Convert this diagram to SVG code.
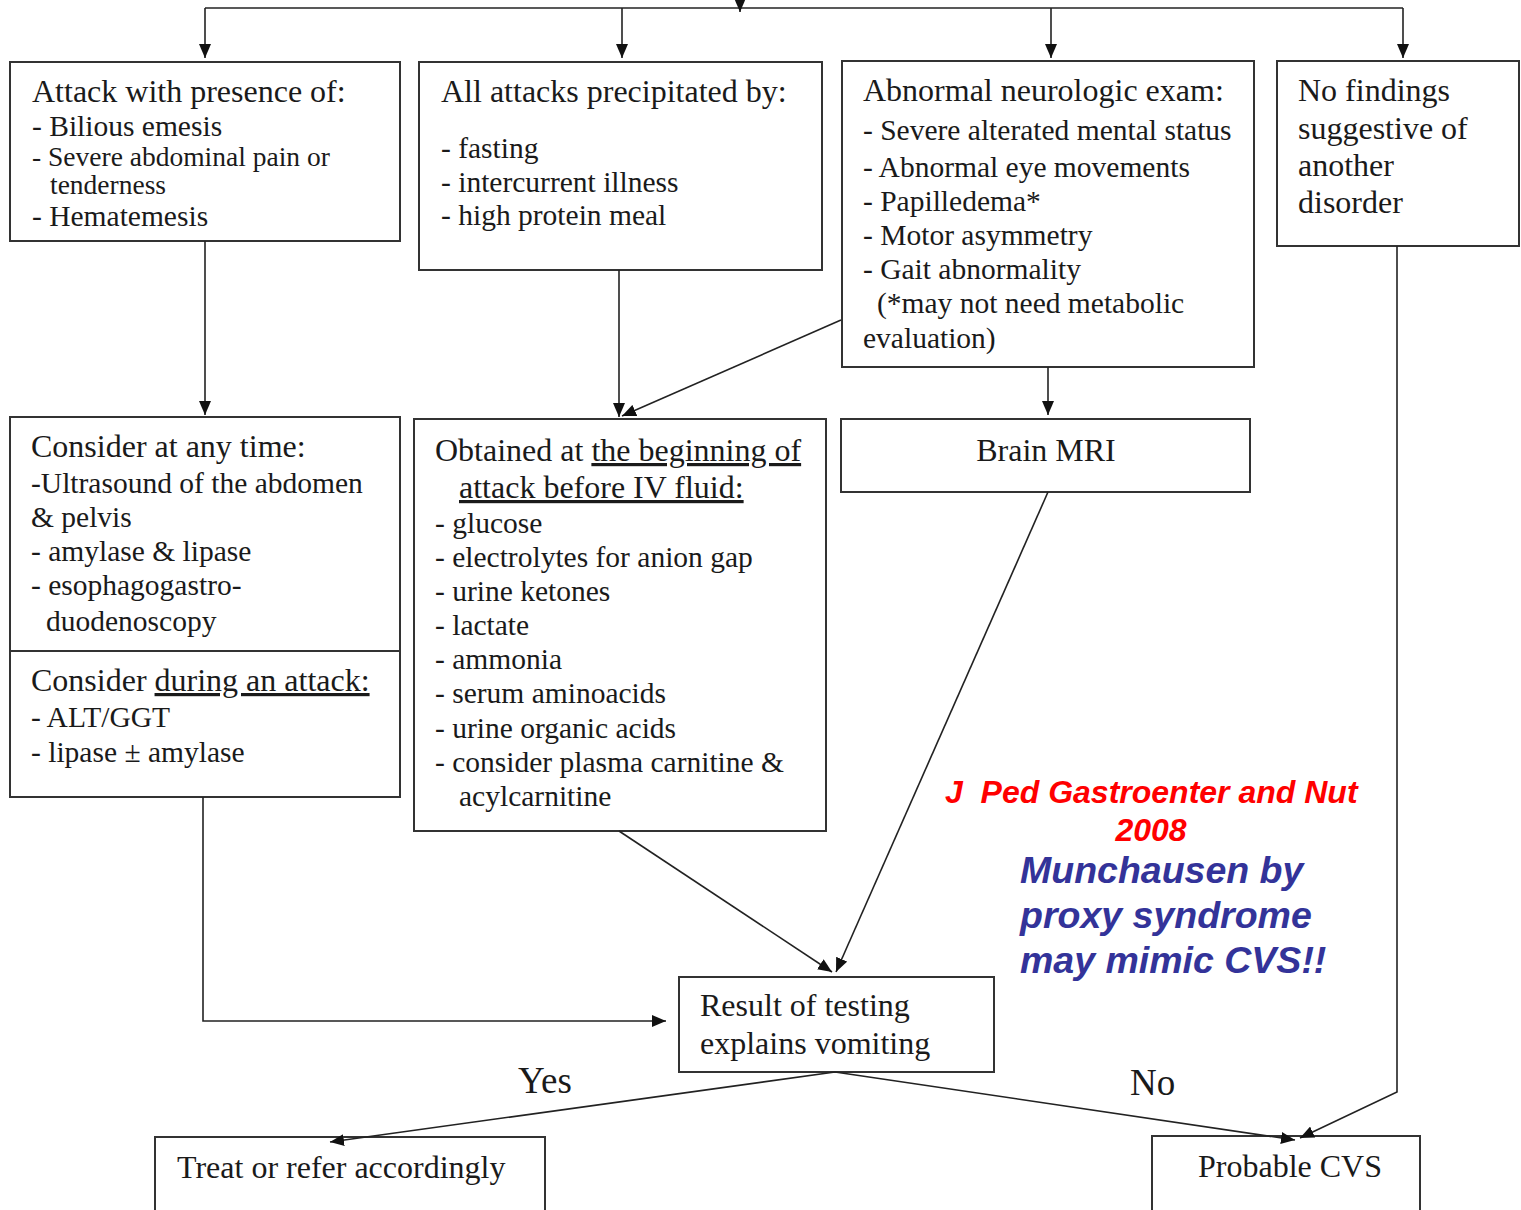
<svg xmlns="http://www.w3.org/2000/svg" width="1521" height="1210" viewBox="0 0 1521 1210">
<defs>
<marker id="ah" markerUnits="userSpaceOnUse" viewBox="0 0 14 12" markerWidth="14" markerHeight="12" refX="14" refY="6" orient="auto">
<path d="M0,0 L14,6 L0,12 z" fill="#111"/>
</marker>
<style>
.box{fill:#fff;stroke:#333;stroke-width:2}
.ln{fill:none;stroke:#222;stroke-width:1.6}
.ar{fill:none;stroke:#222;stroke-width:1.6;marker-end:url(#ah)}
.h{font-family:"Liberation Serif","Times New Roman",serif;font-size:32px;fill:#1a1a1a}
.b{font-family:"Liberation Serif","Times New Roman",serif;font-size:29.5px;fill:#1a1a1a}
.s{font-family:"Liberation Serif","Times New Roman",serif;font-size:27.5px;fill:#1a1a1a}
.yn{font-family:"Liberation Serif","Times New Roman",serif;font-size:37px;fill:#1a1a1a}
.red{font-family:"Liberation Sans",Arial,sans-serif;font-size:32px;font-weight:bold;font-style:italic;fill:#ff0000}
.blue{font-family:"Liberation Sans",Arial,sans-serif;font-size:37.5px;font-weight:bold;font-style:italic;fill:#333399}
.u{text-decoration:underline}
</style>
</defs>
<rect width="1521" height="1210" fill="#fff"/>

<g id="node-attack">
<rect class="box" x="10" y="62" width="390" height="179"/>
<text class="h" x="32" y="102">Attack with presence of:</text>
<text class="b" x="32" y="136">- Bilious emesis</text>
<text class="s" x="32" y="166">- Severe abdominal pain or</text>
<text class="s" x="50" y="194">tenderness</text>
<text class="b" x="32" y="226">- Hematemesis</text>
</g>

<g id="node-precipitated">
<rect class="box" x="419" y="62" width="403" height="208"/>
<text class="h" x="441" y="102">All attacks precipitated by:</text>
<text class="b" x="441" y="158">- fasting</text>
<text class="b" x="441" y="192">- intercurrent illness</text>
<text class="b" x="441" y="225">- high protein meal</text>
</g>

<g id="node-neuro">
<rect class="box" x="842" y="61" width="412" height="306"/>
<text class="h" x="863" y="101">Abnormal neurologic exam:</text>
<text class="b" x="863" y="140">- Severe alterated mental status</text>
<text class="b" x="863" y="177">- Abnormal eye movements</text>
<text class="b" x="863" y="211">- Papilledema*</text>
<text class="b" x="863" y="245">- Motor asymmetry</text>
<text class="b" x="863" y="279">- Gait abnormality</text>
<text class="b" x="877" y="313">(*may not need metabolic</text>
<text class="b" x="863" y="348">evaluation)</text>
</g>

<g id="node-nofindings">
<rect class="box" x="1277" y="61" width="242" height="185"/>
<text class="h" x="1298" y="101">No findings</text>
<text class="h" x="1298" y="139">suggestive of</text>
<text class="h" x="1298" y="176">another</text>
<text class="h" x="1298" y="213">disorder</text>
</g>

<g id="node-consider">
<rect class="box" x="10" y="417" width="390" height="380"/>
<line x1="10" y1="651" x2="400" y2="651" stroke="#333" stroke-width="2"/>
<text class="h" x="31" y="457">Consider at any time:</text>
<text class="b" x="31" y="493">-Ultrasound of the abdomen</text>
<text class="b" x="31" y="527">&amp; pelvis</text>
<text class="b" x="31" y="561">- amylase &amp; lipase</text>
<text class="b" x="31" y="595">- esophagogastro-</text>
<text class="b" x="46" y="631">duodenoscopy</text>
<text class="h" x="31" y="691">Consider <tspan class="u">during an attack:</tspan></text>
<text class="b" x="31" y="727">- ALT/GGT</text>
<text class="b" x="31" y="762">- lipase ± amylase</text>
</g>

<g id="node-obtained">
<rect class="box" x="414" y="419" width="412" height="412"/>
<text class="h" x="435" y="461">Obtained at <tspan class="u">the beginning of</tspan></text>
<text class="h" x="459" y="498" text-decoration="underline">attack before IV fluid:</text>
<text class="b" x="435" y="533">- glucose</text>
<text class="b" x="435" y="567">- electrolytes for anion gap</text>
<text class="b" x="435" y="601">- urine ketones</text>
<text class="b" x="435" y="635">- lactate</text>
<text class="b" x="435" y="669">- ammonia</text>
<text class="b" x="435" y="703">- serum aminoacids</text>
<text class="b" x="435" y="738">- urine organic acids</text>
<text class="b" x="435" y="772">- consider plasma carnitine &amp;</text>
<text class="b" x="459" y="806">acylcarnitine</text>
</g>

<g id="node-mri">
<rect class="box" x="841" y="419" width="409" height="73"/>
<text class="h" x="1046" y="461" text-anchor="middle">Brain MRI</text>
</g>

<g id="node-result">
<rect class="box" x="679" y="977" width="315" height="95"/>
<text class="h" x="700" y="1016">Result of testing</text>
<text class="h" x="700" y="1054">explains vomiting</text>
</g>

<g id="node-treat">
<rect class="box" x="155" y="1137" width="390" height="80"/>
<text class="h" x="177" y="1178">Treat or refer accordingly</text>
</g>

<g id="node-cvs">
<rect class="box" x="1152" y="1136" width="268" height="80"/>
<text class="h" x="1198" y="1177">Probable CVS</text>
</g>

<g id="connectors">
<line class="ln" x1="205" y1="8" x2="1403" y2="8"/>
<line class="ar" x1="740" y1="-10" x2="740" y2="12"/>
<line class="ar" x1="205" y1="8" x2="205" y2="58"/>
<line class="ar" x1="622" y1="8" x2="622" y2="58"/>
<line class="ar" x1="1051" y1="8" x2="1051" y2="58"/>
<line class="ar" x1="1403" y1="8" x2="1403" y2="58"/>
<line class="ar" x1="205" y1="241" x2="205" y2="415"/>
<line class="ar" x1="619" y1="270" x2="619" y2="417"/>
<line class="ar" x1="841" y1="320" x2="622" y2="416"/>
<line class="ar" x1="1048" y1="367" x2="1048" y2="415"/>
<line class="ar" x1="1048" y1="492" x2="836" y2="972"/>
<line class="ar" x1="619" y1="831" x2="832" y2="972"/>
<polyline class="ar" points="203,797 203,1021 666,1021"/>
<polyline class="ar" points="1397,246 1397,1092 1300,1138"/>
<line class="ar" x1="835" y1="1072" x2="330" y2="1142"/>
<line class="ar" x1="835" y1="1072" x2="1295" y2="1140"/>
<text class="yn" x="518" y="1093">Yes</text>
<text class="yn" x="1130" y="1095">No</text>
</g>

<g id="annotation">
<text class="red" x="945" y="803">J&#160; Ped Gastroenter and Nut</text>
<text class="red" x="1151" y="841" text-anchor="middle">2008</text>
<text class="blue" x="1020" y="883">Munchausen by</text>
<text class="blue" x="1020" y="928">proxy syndrome</text>
<text class="blue" x="1020" y="973">may mimic CVS!!</text>
</g>
</svg>
